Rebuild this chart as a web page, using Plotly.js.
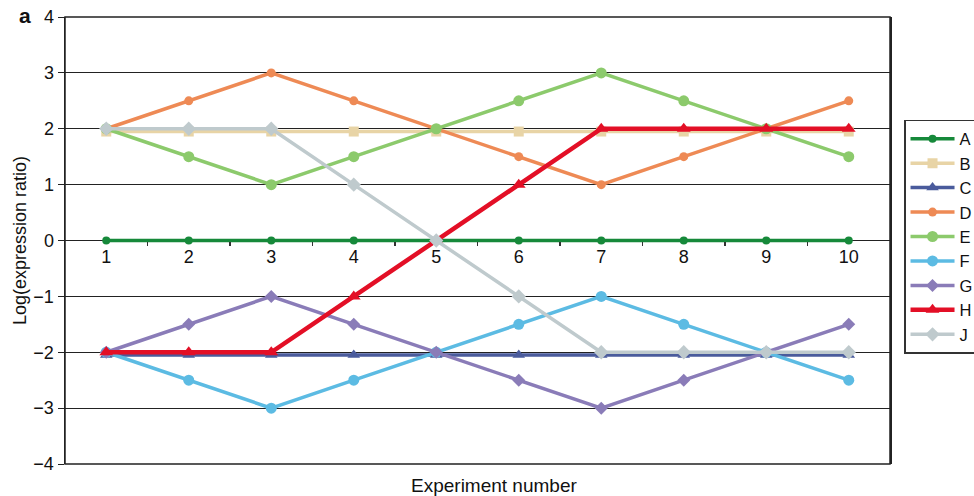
<!DOCTYPE html>
<html>
<head>
<meta charset="utf-8">
<script src="https://cdn.plot.ly/plotly-3.0.1.min.js"></script>
<style>html,body{margin:0;padding:0;background:#fff;}#chart{width:974px;height:496px;}</style>
</head>
<body>
<div id="chart"></div>
<script>
const experiments = [1, 2, 3, 4, 5, 6, 7, 8, 9, 10];
const seriesNames = ["A", "B", "C", "D", "E", "F", "G", "H", "J"];
const A = [0, 0, 0, 0, 0, 0, 0, 0, 0, 0];
const B = [1.95, 1.95, 1.95, 1.95, 1.95, 1.95, 1.95, 1.95, 1.95, 1.95];
const C = [-2.05, -2.05, -2.05, -2.05, -2.05, -2.05, -2.05, -2.05, -2.05, -2.05];
const D = [2, 2.5, 3, 2.5, 2, 1.5, 1, 1.5, 2, 2.5];
const E = [2, 1.5, 1, 1.5, 2, 2.5, 3, 2.5, 2, 1.5];
const F = [-2, -2.5, -3, -2.5, -2, -1.5, -1, -1.5, -2, -2.5];
const G = [-2, -1.5, -1, -1.5, -2, -2.5, -3, -2.5, -2, -1.5];
const H = [-2, -2, -2, -1, 0, 1, 2, 2, 2, 2];
const J = [2, 2, 2, 1, 0, -1, -2, -2, -2, -2];
const yTicks = [-4, -3, -2, -1, 0, 1, 2, 3, 4];

const values = [A, B, C, D, E, F, G, H, J];
const colors = ["#16893a", "#e8d4a6", "#4a5b9c", "#ee8a55", "#8cca6c", "#5cbbe3", "#8a7cb8", "#e30f26", "#bfcacd"];
const symbols = ["circle", "square", "triangle-up", "circle", "circle", "circle", "diamond", "triangle-up", "diamond"];
const sizes = [8, 10, 11, 9, 11, 11, 10, 12, 11];
const widths = [3.5, 3.5, 3.5, 3.5, 3.5, 3.5, 3.5, 4.5, 3.5];

const traces = seriesNames.map((n, i) => ({
  x: experiments, y: values[i], name: n, type: "scatter", mode: "lines+markers",
  line: {color: colors[i], width: widths[i]},
  marker: {color: colors[i], symbol: symbols[i], size: sizes[i]}
}));

const layout = {
  width: 974, height: 496,
  margin: {l: 65, r: 84, t: 17, b: 32, autoexpand: false},
  paper_bgcolor: "#fff", plot_bgcolor: "#fff",
  font: {family: "Liberation Sans, Arial, sans-serif", size: 16, color: "#111"},
  showlegend: true,
  legend: {x: 1.017, xanchor: "left", y: 0.7696, yanchor: "top", bordercolor: "#333", borderwidth: 1.5,
           font: {size: 16.5, color: "#111"}, tracegroupgap: 0, bgcolor: "#fff", itemwidth: 44},
  xaxis: {range: [0.5, 10.5], anchor: "free", position: 0.5, showgrid: false, zeroline: false, showline: false,
          tickmode: "array", tickvals: experiments, ticktext: experiments.map(String), ticks: "",
          ticklabelstandoff: 3,
          minor: {tickmode: "array", tickvals: [1.5, 2.5, 3.5, 4.5, 5.5, 6.5, 7.5, 8.5, 9.5], ticks: "outside", ticklen: 4, tickcolor: "#333", tickwidth: 1.5, showgrid: false},
          tickfont: {size: 18, color: "#111"}},
  yaxis: {range: [-4, 4], tickmode: "array", tickvals: yTicks, ticks: "outside", ticklen: 6, tickcolor: "#222",
          showgrid: true, gridcolor: "#222", gridwidth: 1, zeroline: false,
          showline: true, linecolor: "#222", linewidth: 1.5, mirror: true,
          tickfont: {size: 18, color: "#111"},
          title: {text: "Log(expression ratio)", font: {size: 18, color: "#111"}, standoff: 2}},
  shapes: [{type: "rect", xref: "paper", yref: "paper", x0: 0, x1: 1, y0: 0, y1: 1, line: {color: "#222", width: 1.5}}],
  annotations: [
    {text: "<b>a</b>", xref: "paper", yref: "paper", x: -0.0485, y: 1.003, xanchor: "center", yanchor: "middle", showarrow: false, font: {size: 21, color: "#111"}},
    {text: "Experiment number", xref: "paper", yref: "paper", x: 0.52, y: -0.049, xanchor: "center", yanchor: "middle", showarrow: false, font: {size: 19, color: "#111"}}
  ]
};

Plotly.newPlot("chart", traces, layout, {displayModeBar: false, staticPlot: true});
</script>
</body>
</html>
